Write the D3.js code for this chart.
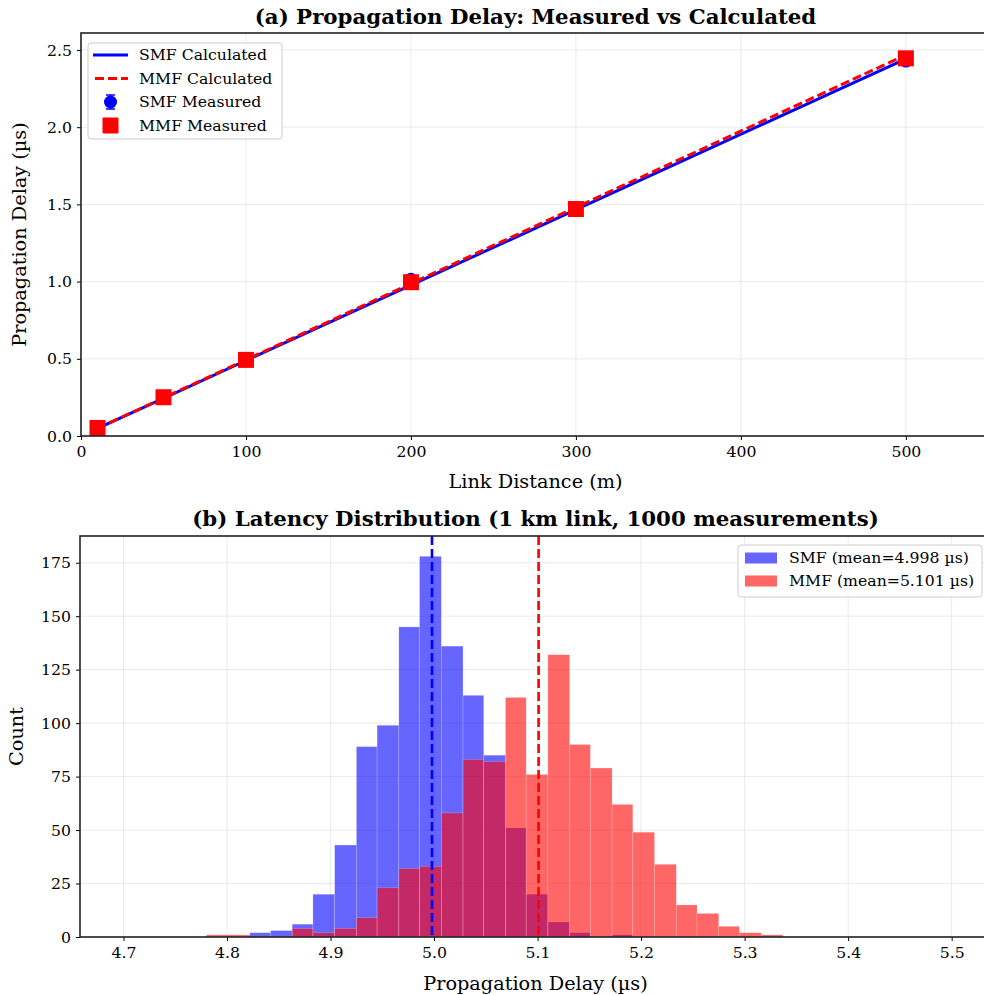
<!DOCTYPE html>
<meta charset="utf-8">
<html>
  <head>
    <style>
      body { margin: 0; background: #fff; }
      text { font-family: "DejaVu Serif", serif; fill: #000; }
      .grid line { stroke: #b0b0b0; stroke-opacity: 0.3; stroke-width: 0.9px; }
      .axis path { display: none; }
      .axis line { stroke: #000; stroke-width: 1px; }
      .axis text { font-size: 15.7px; }
      .spine { fill: none; stroke: #222; stroke-width: 1.6px; }
      .title { font-size: 21.3px; font-weight: bold; text-anchor: middle; }
      .label { font-size: 19.3px; text-anchor: middle; }
      .legend text { font-size: 15.7px; }
    </style>
    <script src="https://d3js.org/d3.v7.min.js"></script>
  </head>
  <body>
<div id="my_dataviz"></div>

<script type="text/javascript">
// ---- data (a): propagation delay vs link distance
var distances = [10, 50, 100, 200, 300, 500];
var smfCalc = [0.049, 0.244, 0.489, 0.977, 1.466, 2.443];
var mmfCalc = [0.049, 0.247, 0.494, 0.987, 1.481, 2.468];
var smfMeas = [0.051, 0.246, 0.491, 1.015, 1.468, 2.428];
var smfErr  = [0.004, 0.004, 0.004, 0.004, 0.004, 0.004];
var mmfMeas = [0.052, 0.251, 0.493, 0.996, 1.470, 2.446];
var xTicksA = [0, 100, 200, 300, 400, 500];
var yTicksA = [0, 0.5, 1.0, 1.5, 2.0, 2.5];

// ---- data (b): latency histogram (shared bin edges, µs)
var binEdges = [4.780, 4.801, 4.822, 4.842, 4.863, 4.883, 4.904, 4.925, 4.945, 4.966,
                4.986, 5.007, 5.028, 5.048, 5.069, 5.089, 5.110, 5.131, 5.151, 5.172,
                5.192, 5.213, 5.234, 5.254, 5.275, 5.295, 5.316, 5.337];
var smfCounts = [0, 0, 2, 3, 6, 20, 43, 89, 99, 145, 178, 136, 113, 85, 51, 20, 7, 2, 0, 1, 0, 0, 0, 0, 0, 0, 0];
var mmfCounts = [1, 1, 0, 0, 4, 2, 4, 9, 23, 32, 33, 58, 83, 82, 112, 76, 132, 90, 79, 62, 49, 34, 15, 11, 5, 2, 1];
var smfMean = 4.998, mmfMean = 5.101;
var xTicksB = [4.7, 4.8, 4.9, 5.0, 5.1, 5.2, 5.3, 5.4, 5.5];
var yTicksB = [0, 25, 50, 75, 100, 125, 150, 175];

var svg = d3.select("#my_dataviz")
  .append("svg")
  .attr("width", 984)
  .attr("height", 995);

svg.append("rect").attr("width", 984).attr("height", 995).attr("fill", "#fff");

// ================= panel (a) =================
var a = {left: 81, right: 990, top: 33, bottom: 436};
var xA = d3.scaleLinear().domain([0, 551]).range([a.left, a.right]);
var yA = d3.scaleLinear().domain([0, 2.61]).range([a.bottom, a.top]);

var gA = svg.append("g");

gA.append("g").attr("class", "grid")
  .selectAll("line").data(xTicksA).enter().append("line")
  .attr("x1", d => xA(d)).attr("x2", d => xA(d))
  .attr("y1", a.top).attr("y2", a.bottom);
gA.append("g").attr("class", "grid")
  .selectAll("line").data(yTicksA).enter().append("line")
  .attr("x1", a.left).attr("x2", a.right)
  .attr("y1", d => yA(d)).attr("y2", d => yA(d));

var lineA = function(vals) {
  return d3.line().x((d, i) => xA(distances[i])).y(d => yA(d))(vals);
};

gA.append("path").attr("d", lineA(smfCalc))
  .attr("fill", "none").attr("stroke", "#0000ff").attr("stroke-width", 3);
gA.append("path").attr("d", lineA(mmfCalc))
  .attr("fill", "none").attr("stroke", "#ff0000").attr("stroke-width", 3)
  .attr("stroke-dasharray", "9,4");

// SMF measured with error bars
var eb = gA.append("g").selectAll("g").data(smfMeas).enter().append("g");
eb.append("line")
  .attr("x1", (d, i) => xA(distances[i])).attr("x2", (d, i) => xA(distances[i]))
  .attr("y1", (d, i) => yA(d - smfErr[i])).attr("y2", (d, i) => yA(d + smfErr[i]))
  .attr("stroke", "#0000ff").attr("stroke-width", 1.5);
eb.append("circle")
  .attr("cx", (d, i) => xA(distances[i])).attr("cy", d => yA(d))
  .attr("r", 6.5).attr("fill", "#0000ff");

gA.append("g").selectAll("rect").data(mmfMeas).enter().append("rect")
  .attr("x", (d, i) => xA(distances[i]) - 8).attr("y", d => yA(d) - 8)
  .attr("width", 16).attr("height", 16).attr("fill", "#ff0000");

// axes
gA.append("g").attr("class", "axis")
  .attr("transform", "translate(0," + a.bottom + ")")
  .call(d3.axisBottom(xA).tickValues(xTicksA).tickFormat(d3.format("d")).tickSize(4).tickPadding(6));
gA.append("g").attr("class", "axis")
  .attr("transform", "translate(" + a.left + ",0)")
  .call(d3.axisLeft(yA).tickValues(yTicksA).tickFormat(d3.format(".1f")).tickSize(4).tickPadding(5));
gA.append("rect").attr("class", "spine")
  .attr("x", a.left).attr("y", a.top)
  .attr("width", a.right - a.left).attr("height", a.bottom - a.top);

svg.append("text").attr("class", "title").attr("x", (a.left + a.right) / 2).attr("y", 24)
  .text("(a) Propagation Delay: Measured vs Calculated");
svg.append("text").attr("class", "label").attr("x", (a.left + a.right) / 2).attr("y", 488)
  .text("Link Distance (m)");
svg.append("text").attr("class", "label")
  .attr("transform", "translate(26," + ((a.top + a.bottom) / 2) + ") rotate(-90)")
  .text("Propagation Delay (µs)");

// legend (a)
var legA = svg.append("g").attr("class", "legend");
legA.append("rect").attr("x", 88).attr("y", 43).attr("width", 194).attr("height", 96)
  .attr("rx", 3).attr("fill", "#fff").attr("fill-opacity", 0.8)
  .attr("stroke", "#cccccc").attr("stroke-width", 1);
var rowsA = [55, 78.5, 102, 125.5];
legA.append("line").attr("x1", 93).attr("x2", 128).attr("y1", rowsA[0]).attr("y2", rowsA[0])
  .attr("stroke", "#0000ff").attr("stroke-width", 3);
legA.append("line").attr("x1", 93).attr("x2", 128).attr("y1", rowsA[1]).attr("y2", rowsA[1])
  .attr("stroke", "#ff0000").attr("stroke-width", 3).attr("stroke-dasharray", "9,4")
  .attr("stroke-dashoffset", -2);
legA.append("line").attr("x1", 110.5).attr("x2", 110.5).attr("y1", rowsA[2] - 7).attr("y2", rowsA[2] + 7)
  .attr("stroke", "#0000ff").attr("stroke-width", 1.5);
legA.append("line").attr("x1", 106).attr("x2", 115).attr("y1", rowsA[2] - 7).attr("y2", rowsA[2] - 7)
  .attr("stroke", "#0000ff").attr("stroke-width", 1.5);
legA.append("line").attr("x1", 106).attr("x2", 115).attr("y1", rowsA[2] + 7).attr("y2", rowsA[2] + 7)
  .attr("stroke", "#0000ff").attr("stroke-width", 1.5);
legA.append("circle").attr("cx", 110.5).attr("cy", rowsA[2]).attr("r", 6.5).attr("fill", "#0000ff");
legA.append("rect").attr("x", 102.5).attr("y", rowsA[3] - 8).attr("width", 16).attr("height", 16)
  .attr("rx", 1).attr("fill", "#ff0000");
["SMF Calculated", "MMF Calculated", "SMF Measured", "MMF Measured"].forEach(function(t, i) {
  legA.append("text").attr("x", 139).attr("y", rowsA[i]).attr("dy", "0.35em").text(t);
});

// ================= panel (b) =================
var b = {left: 80, right: 991, top: 536, bottom: 937};
var xB = d3.scaleLinear().domain([4.658, 5.538]).range([b.left, b.right]);
var yB = d3.scaleLinear().domain([0, 187.5]).range([b.bottom, b.top]);

var gB = svg.append("g");
gB.append("g").attr("class", "grid")
  .selectAll("line").data(xTicksB).enter().append("line")
  .attr("x1", d => xB(d)).attr("x2", d => xB(d))
  .attr("y1", b.top).attr("y2", b.bottom);
gB.append("g").attr("class", "grid")
  .selectAll("line").data(yTicksB).enter().append("line")
  .attr("x1", b.left).attr("x2", b.right)
  .attr("y1", d => yB(d)).attr("y2", d => yB(d));

var histBars = function(counts, color) {
  var bins = counts.map((c, i) => ({c: c, x0: binEdges[i], x1: binEdges[i + 1]}))
    .filter(d => d.c > 0);
  gB.append("g").selectAll("rect").data(bins).enter().append("rect")
    .attr("x", d => xB(d.x0))
    .attr("width", d => xB(d.x1) - xB(d.x0))
    .attr("y", d => yB(d.c))
    .attr("height", d => yB(0) - yB(d.c))
    .attr("fill", color).attr("fill-opacity", 0.6)
    .attr("stroke", "#fff").attr("stroke-opacity", 0.3).attr("stroke-width", 0.6);
};
histBars(smfCounts, "#0000ff");
histBars(mmfCounts, "#ff0000");

gB.append("line").attr("x1", xB(smfMean)).attr("x2", xB(smfMean))
  .attr("y1", b.top).attr("y2", b.bottom)
  .attr("stroke", "#0000ff").attr("stroke-width", 2.6).attr("stroke-dasharray", "9,4");
gB.append("line").attr("x1", xB(mmfMean)).attr("x2", xB(mmfMean))
  .attr("y1", b.top).attr("y2", b.bottom)
  .attr("stroke", "#ff0000").attr("stroke-width", 2.6).attr("stroke-dasharray", "9,4");

gB.append("g").attr("class", "axis")
  .attr("transform", "translate(0," + b.bottom + ")")
  .call(d3.axisBottom(xB).tickValues(xTicksB).tickFormat(d3.format(".1f")).tickSize(4).tickPadding(6));
gB.append("g").attr("class", "axis")
  .attr("transform", "translate(" + b.left + ",0)")
  .call(d3.axisLeft(yB).tickValues(yTicksB).tickFormat(d3.format("d")).tickSize(4).tickPadding(5));
gB.append("rect").attr("class", "spine")
  .attr("x", b.left).attr("y", b.top)
  .attr("width", b.right - b.left).attr("height", b.bottom - b.top);

svg.append("text").attr("class", "title").attr("x", (b.left + b.right) / 2).attr("y", 526)
  .text("(b) Latency Distribution (1 km link, 1000 measurements)");
svg.append("text").attr("class", "label").attr("x", (b.left + b.right) / 2).attr("y", 990)
  .text("Propagation Delay (µs)");
svg.append("text").attr("class", "label")
  .attr("transform", "translate(23," + ((b.top + b.bottom) / 2) + ") rotate(-90)")
  .text("Count");

// legend (b)
var legB = svg.append("g").attr("class", "legend");
legB.append("rect").attr("x", 738).attr("y", 545).attr("width", 244).attr("height", 52)
  .attr("rx", 3).attr("fill", "#fff").attr("fill-opacity", 0.8)
  .attr("stroke", "#cccccc").attr("stroke-width", 1);
var rowsB = [558, 581];
[["#0000ff", "SMF (mean=" + smfMean.toFixed(3) + " µs)"],
 ["#ff0000", "MMF (mean=" + mmfMean.toFixed(3) + " µs)"]].forEach(function(e, i) {
  legB.append("rect").attr("x", 745).attr("y", rowsB[i] - 5.5).attr("width", 32).attr("height", 11)
    .attr("fill", e[0]).attr("fill-opacity", 0.6);
  legB.append("text").attr("x", 789).attr("y", rowsB[i]).attr("dy", "0.35em").text(e[1]);
});
</script>
</body>
